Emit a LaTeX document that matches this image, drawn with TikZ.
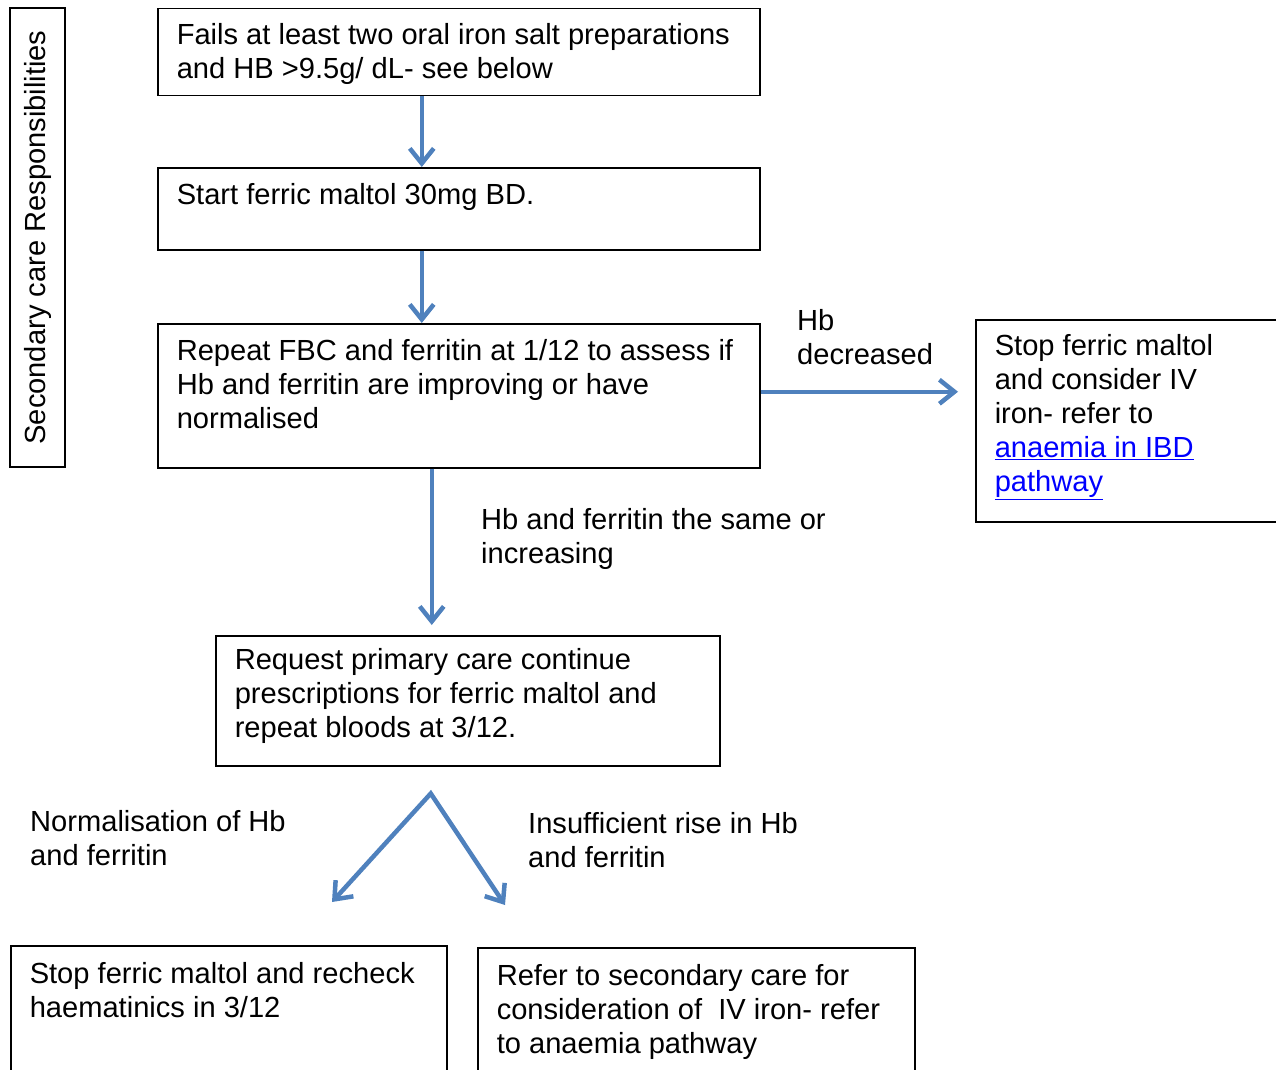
\documentclass[tikz,border=0pt]{standalone}
\usepackage{fontspec}
\setmainfont{Liberation Sans}
\usetikzlibrary{arrows.meta}
\definecolor{arrowblue}{HTML}{4F81BD}
\definecolor{linkblue}{HTML}{0000FF}

\begin{document}
\begin{tikzpicture}[x=1pt,y=-1pt,
  font=\fontsize{29.1pt}{34pt}\selectfont,
  stepbox/.style={draw,line width=1.5pt,anchor=north west,inner xsep=19pt,inner ysep=0pt,align=flush left},
  note/.style={anchor=base west,inner sep=0pt,align=flush left},
  flow/.style={draw=arrowblue,line width=4.5pt,-{Straight Barb[length=15pt,width=24pt]}}]
\useasboundingbox (0,0) rectangle (1276,1070);
\clip (0,0) rectangle (1276,1070);
\node[draw,line width=1.5pt,rotate=90,minimum width=459pt,minimum height=55pt,inner sep=0pt] (SecondaryLane) at (37.5,237.5) {Secondary care Responsibilities};
\node[stepbox,text width=564pt,text height=36pt,text depth=51pt] (FailsOral) at (157,8) {Fails at least two oral iron salt preparations\\and HB >9.5g/ dL- see below};
\node[stepbox,text width=564pt,text height=37pt,text depth=45pt] (StartMaltol) at (157,167) {Start ferric maltol 30mg BD.};
\node[stepbox,text width=564pt,text height=37pt,text depth=107pt] (RepeatFBC) at (157,323) {Repeat FBC and ferritin at 1/12 to assess if\\Hb and ferritin are improving or have\\normalised};
\node[stepbox,text width=287pt,text height=36pt,text depth=166pt] (StopIV) at (975,319) {Stop ferric maltol\\and consider IV\\iron- refer to\\{\color{linkblue}\underline{anaemia in IBD}}\\{\color{linkblue}\underline{pathway}}};
\node[stepbox,text width=466pt,text height=34pt,text depth=96pt] (RequestPrimary) at (215,635) {Request primary care continue\\prescriptions for ferric maltol and\\repeat bloods at 3/12.};
\node[stepbox,text width=398pt,text height=38pt,text depth=117pt] (StopRecheck) at (10,945) {Stop ferric maltol and recheck\\haematinics in 3/12};
\node[stepbox,text width=399pt,text height=38pt,text depth=115pt] (ReferSecondary) at (477,947) {Refer to secondary care for\\consideration of\ \ IV iron- refer\\to anaemia pathway};
\node[note,text width=200pt] (HbDecreased) at (797,330) {Hb\\decreased};
\node[note,text width=400pt] (HbSame) at (481,529) {Hb and ferritin the same or\\increasing};
\node[note,text width=300pt] (Normalised) at (30,831) {Normalisation of Hb\\and ferritin};
\node[note,text width=320pt] (Insufficient) at (528,833) {Insufficient rise in Hb\\and ferritin};
\coordinate (Fork) at ([xshift=-37pt,yshift=-27pt]RequestPrimary.south);
\coordinate (ToRecheck) at (332,902);
\coordinate (ToRefer) at (505,905);
\draw[flow] ([xshift=-37pt]FailsOral.south) -- ([xshift=-37pt]StartMaltol.north);
\draw[flow] ([xshift=-37pt]StartMaltol.south) -- ([xshift=-37pt]RepeatFBC.north);
\draw[flow,shorten >=17pt] ([yshift=4pt]RepeatFBC.east) -- ([yshift=4pt]RepeatFBC.east -| StopIV.west);
\draw[flow,shorten >=10pt] ([xshift=-27pt]RepeatFBC.south) -- ([xshift=-27pt]RepeatFBC.south |- RequestPrimary.north);
\draw[flow,{Straight Barb[length=15pt,width=24pt]}-{Straight Barb[length=15pt,width=24pt]}] (ToRecheck) -- (Fork) -- (ToRefer);
\end{tikzpicture}
\end{document}
